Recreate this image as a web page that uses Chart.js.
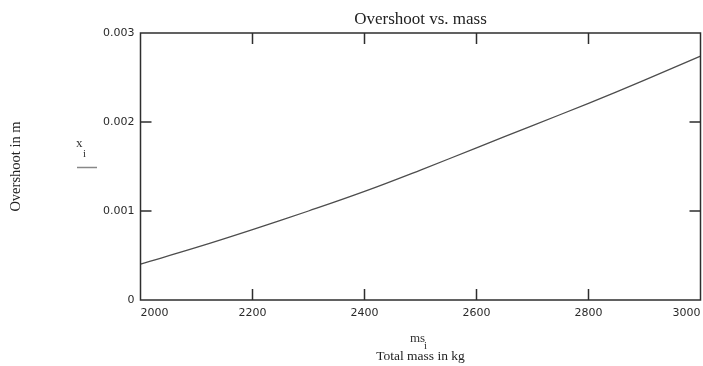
<!DOCTYPE html>
<html>
<head>
<meta charset="utf-8">
<script src="https://cdn.jsdelivr.net/npm/chart.js@4.4.0/dist/chart.umd.min.js"></script>
<style>
  html, body { margin: 0; padding: 0; background: #fff; }
  #wrap { width: 703px; height: 366px; }
</style>
</head>
<body>
<div id="wrap"><canvas id="overshootChart" width="703" height="366"></canvas></div>
<script>
  // ---- DATA ----
  const massKg = [2000, 2100, 2200, 2300, 2400, 2500, 2600, 2700, 2800, 2900, 3000];
  const overshootM = [0.000404, 0.00059, 0.00079, 0.001, 0.00122, 0.00146, 0.00171, 0.00196, 0.00221, 0.00247, 0.00274];
  const xTickValues = [2000, 2200, 2400, 2600, 2800, 3000];
  const yTickValues = [0, 0.001, 0.002, 0.003];

  const SERIF = '"Liberation Serif", "Times New Roman", serif';
  const SANS = '"DejaVu Sans", sans-serif';

  // ---- FRAME + INWARD TICKS + MATHCAD LABELS ----
  const framePlugin = {
    id: 'frame',
    afterDatasetsDraw(chart) {
      const { ctx, chartArea: a, scales: { x, y } } = chart;
      const len = 11;
      ctx.save();
      ctx.strokeStyle = '#2e2e2e';
      ctx.lineWidth = 1.5;
      ctx.strokeRect(a.left, a.top, a.right - a.left, a.bottom - a.top);

      ctx.beginPath();
      x.ticks.forEach(t => {
        const px = x.getPixelForValue(t.value);
        if (px <= a.left + 1 || px >= a.right - 1) return;
        ctx.moveTo(px, a.bottom); ctx.lineTo(px, a.bottom - len);
        ctx.moveTo(px, a.top); ctx.lineTo(px, a.top + len);
      });
      y.ticks.forEach(t => {
        const py = y.getPixelForValue(t.value);
        if (py <= a.top + 1 || py >= a.bottom - 1) return;
        ctx.moveTo(a.left, py); ctx.lineTo(a.left + len, py);
        ctx.moveTo(a.right, py); ctx.lineTo(a.right - len, py);
      });
      ctx.stroke();

      // trace name on the y side, with its legend line
      ctx.fillStyle = '#333';
      ctx.textBaseline = 'alphabetic';
      ctx.textAlign = 'left';
      ctx.font = '13px ' + SERIF;
      ctx.fillText('x', 76, 147);
      ctx.font = '11px ' + SERIF;
      ctx.fillText('i', 83, 157);
      ctx.strokeStyle = '#888';
      ctx.lineWidth = 1.5;
      ctx.beginPath();
      ctx.moveTo(77, 167.5); ctx.lineTo(97, 167.5);
      ctx.stroke();

      // trace name on the x side
      ctx.fillStyle = '#333';
      ctx.font = '13px ' + SERIF;
      ctx.fillText('ms', 410, 342);
      ctx.font = '11px ' + SERIF;
      ctx.fillText('i', 424, 349);
      ctx.restore();
    }
  };

  // ---- CHART ----
  const ctx = document.getElementById('overshootChart').getContext('2d');

  new Chart(ctx, {
    type: 'line',
    data: {
      datasets: [{
        data: massKg.map((m, i) => ({ x: m, y: overshootM[i] })),
        borderColor: '#4d4d4d',
        borderWidth: 1.3,
        tension: 0.4,
        pointRadius: 0,
        fill: false
      }]
    },
    options: {
      responsive: false,
      animation: false,
      devicePixelRatio: 1,
      layout: { padding: 0 },
      plugins: {
        legend: { display: false },
        tooltip: { enabled: false },
        title: {
          display: true,
          text: 'Overshoot vs. mass',
          fullSize: false,
          color: '#222',
          font: { family: SERIF, size: 17, weight: 'normal', lineHeight: 1.2 },
          padding: { top: 9.5, bottom: 3.1 }
        }
      },
      scales: {
        x: {
          type: 'linear',
          min: 2000,
          max: 3000,
          afterFit: s => { s.height = 66; s.paddingLeft = 0; s.paddingRight = 2.5; },
          afterBuildTicks: s => { s.ticks = xTickValues.map(v => ({ value: v })); },
          grid: { display: false, drawTicks: false },
          border: { display: false },
          ticks: {
            align: 'inner',
            maxRotation: 0,
            padding: 7,
            color: '#2a2a2a',
            font: { family: SANS, size: 11 },
            callback: v => String(v)
          },
          title: {
            display: true,
            text: 'Total mass in kg',
            color: '#222',
            font: { family: SERIF, size: 13.5, lineHeight: 1.2 },
            padding: { top: 0, bottom: 1 }
          }
        },
        y: {
          type: 'linear',
          min: 0,
          max: 0.003,
          afterFit: s => { s.width = 140.5; },
          afterBuildTicks: s => { s.ticks = yTickValues.map(v => ({ value: v })); },
          grid: { display: false, drawTicks: false },
          border: { display: false },
          ticks: {
            padding: 6,
            color: '#2a2a2a',
            font: { family: SANS, size: 11 },
            callback: v => v === 0 ? '0' : v.toFixed(3)
          },
          title: {
            display: true,
            text: 'Overshoot in m',
            color: '#222',
            font: { family: SERIF, size: 14.5, lineHeight: 1.2 },
            padding: { top: 7, bottom: 0 }
          }
        }
      }
    },
    plugins: [framePlugin]
  });
</script>
</body>
</html>
